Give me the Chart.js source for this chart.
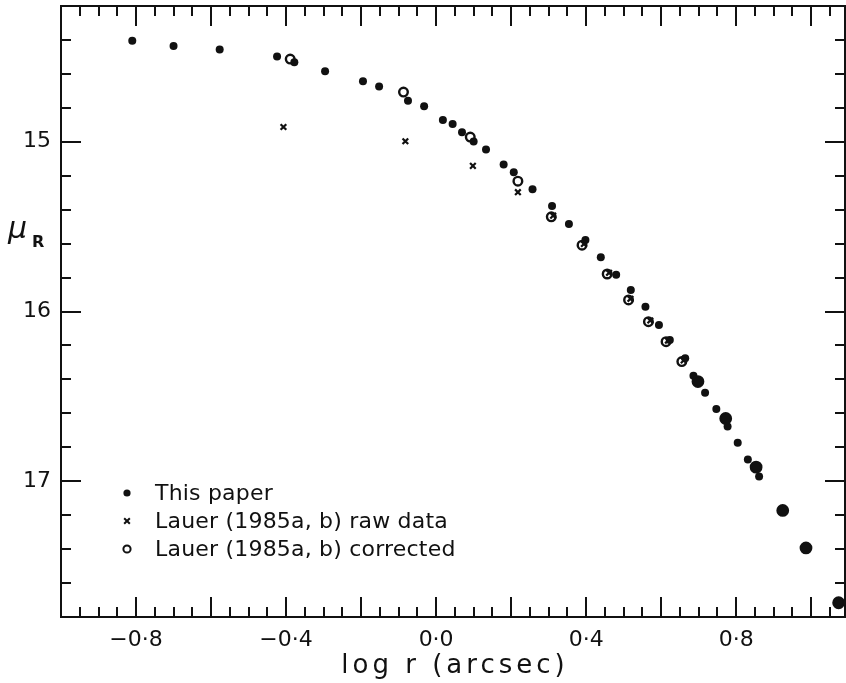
<!DOCTYPE html>
<html>
<head>
<meta charset="utf-8">
<title>Surface brightness profile</title>
<script src="https://cdn.jsdelivr.net/npm/chart.js@4.4.0/dist/chart.umd.min.js"></script>
<style>
  html, body { margin: 0; padding: 0; background: #fff; overflow: hidden; }
  canvas { display: block; }
</style>
</head>
<body>
<canvas id="profile" width="846" height="683"></canvas>
<script>
// tick labels
const xTickValues = [-0.8, -0.4, 0.0, 0.4, 0.8];
const yTickValues = [15, 16, 17];

// this paper
const paperLogR = [-0.810, -0.700, -0.577, -0.424, -0.378, -0.296, -0.195, -0.152, -0.075, -0.032,
  0.018, 0.044, 0.069, 0.100, 0.133, 0.180, 0.207, 0.257, 0.309, 0.354,
  0.398, 0.439, 0.480, 0.519, 0.558, 0.594, 0.623, 0.664, 0.686, 0.717,
  0.747, 0.777, 0.804, 0.831, 0.861];
const paperMu = [14.405, 14.436, 14.456, 14.497, 14.532, 14.584, 14.644, 14.675, 14.758, 14.791,
  14.872, 14.895, 14.944, 14.999, 15.046, 15.134, 15.179, 15.279, 15.379, 15.484,
  15.579, 15.681, 15.783, 15.874, 15.972, 16.079, 16.168, 16.276, 16.379, 16.478,
  16.574, 16.678, 16.774, 16.872, 16.972];

// Lauer (1985a,b) raw
const rawLogR = [-0.407, -0.082, 0.098, 0.218, 0.312, 0.394, 0.461, 0.518, 0.571, 0.618, 0.660];
const rawMu = [14.913, 14.997, 15.142, 15.297, 15.435, 15.602, 15.772, 15.925, 16.053, 16.171, 16.288];

// Lauer (1985a,b) corrected
const corrLogR = [-0.389, -0.087, 0.091, 0.218, 0.307, 0.389, 0.456, 0.513, 0.566, 0.613,
  0.655, 0.698, 0.772, 0.853, 0.924, 0.986, 1.073];
const corrMu = [14.513, 14.707, 14.972, 15.232, 15.442, 15.609, 15.779, 15.932, 16.060, 16.178,
  16.295, 16.413, 16.630, 16.917, 17.172, 17.393, 17.716];

const FONT = 'DejaVu Sans';
const INK = '#111';

const toPoints = (xs, ys) => xs.map((x, i) => ({ x, y: ys[i] }));
const fmtTick = (v) => (v < 0 ? '\u2212' : '') + Math.abs(v).toFixed(1).replace('.', '\u00b7');

// outer circles run together into solid blobs
const corrFilled = (ctx) => (ctx.raw && ctx.raw.x > 0.68 ? INK : 'rgba(0,0,0,0)');
const corrRadius = (ctx) => (ctx.raw && ctx.raw.x > 0.68 ? 5.2 : 4.3);

// keep the plot box flush with the fixed margins
const noEdgePadding = (s) => {
  s.paddingTop = 0;
  s.paddingBottom = 0;
  s.paddingLeft = 0;
  s.paddingRight = 0;
};

// box frame with inward ticks on all four sides, plus axis titles
const framePlugin = {
  id: 'frame',
  afterDraw(chart) {
    const { ctx, chartArea: a, scales: { x, y } } = chart;
    ctx.save();
    ctx.strokeStyle = INK;
    ctx.lineWidth = 2;
    ctx.strokeRect(a.left, a.top, a.right - a.left, a.bottom - a.top);
    ctx.beginPath();
    for (let i = -19; i <= 21; i++) {
      const v = i * 0.05;
      if (v >= x.max) continue;
      const px = Math.round(x.getPixelForValue(v));
      const len = i % 4 === 0 ? 20 : 10;
      ctx.moveTo(px, a.bottom); ctx.lineTo(px, a.bottom - len);
      ctx.moveTo(px, a.top); ctx.lineTo(px, a.top + len);
    }
    for (let i = 72; i <= 88; i++) {
      const py = Math.round(y.getPixelForValue(i * 0.2));
      const len = i % 5 === 0 ? 20 : 10;
      ctx.moveTo(a.left, py); ctx.lineTo(a.left + len, py);
      ctx.moveTo(a.right, py); ctx.lineTo(a.right - len, py);
    }
    ctx.stroke();

    ctx.fillStyle = INK;
    ctx.textBaseline = 'alphabetic';

    // y axis title: mu with subscript R
    ctx.font = `italic 30px ${FONT}`;
    ctx.fillText('\u03bc', 8, 238);
    ctx.font = `bold 16px ${FONT}`;
    ctx.fillText('R', 32, 247);

    // x axis title, widely lettered
    ctx.font = `26px ${FONT}`;
    ctx.letterSpacing = '4px';
    ctx.textAlign = 'center';
    ctx.fillText('log r (arcsec)', 455, 673);
    ctx.restore();
  },
};

// key in the lower left of the plot
const keyPlugin = {
  id: 'key',
  afterDraw(chart) {
    const { ctx, chartArea: a } = chart;
    const left = a.left + 66;
    const top = a.bottom - 124;
    const marks = [
      { pointStyle: 'circle', radius: 3.6, borderWidth: 0, fill: INK },
      { pointStyle: 'crossRot', radius: 4, borderWidth: 2, fill: INK },
      { pointStyle: 'circle', radius: 3.6, borderWidth: 2, fill: '#fff' },
    ];
    ctx.save();
    chart.data.datasets.forEach((ds, i) => {
      const cy = top + i * 28;
      const m = marks[i];
      ctx.fillStyle = m.fill;
      ctx.strokeStyle = INK;
      ctx.lineWidth = m.borderWidth;
      Chart.helpers.drawPoint(ctx, { pointStyle: m.pointStyle, radius: m.radius, borderWidth: m.borderWidth, rotation: 0 }, left, cy);
      ctx.fillStyle = INK;
      ctx.font = `22px ${FONT}`;
      ctx.letterSpacing = '0.2px';
      ctx.textBaseline = 'middle';
      ctx.fillText(ds.label, left + 28, cy + 1);
    });
    ctx.restore();
  },
};

new Chart(document.getElementById('profile'), {
  type: 'scatter',
  data: {
    datasets: [
      {
        label: 'This paper',
        data: toPoints(paperLogR, paperMu),
        pointStyle: 'circle',
        pointRadius: 4,
        pointBorderWidth: 0,
        pointBackgroundColor: INK,
        order: 2,
      },
      {
        label: 'Lauer (1985a, b) raw data',
        data: toPoints(rawLogR, rawMu),
        pointStyle: 'crossRot',
        pointRadius: 4,
        pointBorderWidth: 2.2,
        pointBorderColor: INK,
        order: 1,
      },
      {
        label: 'Lauer (1985a, b) corrected',
        data: toPoints(corrLogR, corrMu),
        pointStyle: 'circle',
        pointRadius: corrRadius,
        pointBorderWidth: 2.4,
        pointBorderColor: INK,
        pointBackgroundColor: corrFilled,
        order: 0,
      },
    ],
  },
  options: {
    responsive: false,
    animation: false,
    events: [],
    devicePixelRatio: 1,
    layout: { autoPadding: false, padding: { top: 6, right: 1, left: 0, bottom: 0 } },
    plugins: {
      legend: { display: false },
      tooltip: { enabled: false },
    },
    scales: {
      x: {
        type: 'linear',
        min: -1.0,
        max: 1.09,
        afterBuildTicks: (s) => { s.ticks = xTickValues.map((v) => ({ value: v })); },
        afterFit: (s) => { s.height = 66; noEdgePadding(s); },
        grid: { display: false, drawTicks: false },
        border: { display: false },
        ticks: {
          callback: fmtTick,
          color: INK,
          font: { family: FONT, size: 22 },
          padding: 10,
          maxRotation: 0,
          autoSkip: false,
        },
      },
      y: {
        type: 'linear',
        reverse: true,
        min: 14.2,
        max: 17.8,
        afterBuildTicks: (s) => { s.ticks = yTickValues.map((v) => ({ value: v })); },
        afterFit: (s) => { s.width = 61; noEdgePadding(s); },
        grid: { display: false, drawTicks: false },
        border: { display: false },
        ticks: {
          callback: (v) => String(v),
          color: INK,
          font: { family: FONT, size: 22 },
          padding: 10,
        },
      },
    },
  },
  plugins: [framePlugin, keyPlugin],
});
</script>
</body>
</html>
